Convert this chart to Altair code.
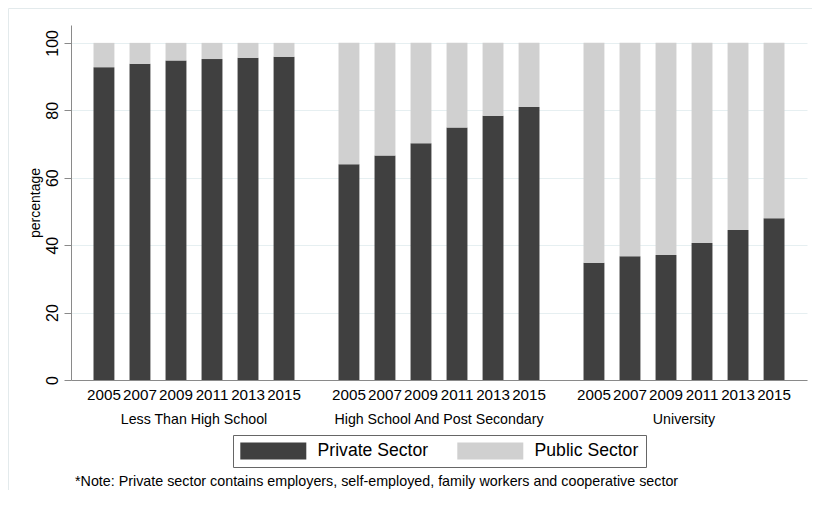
import altair as alt
import pandas as pd

groups = ["Less Than High School", "High School And Post Secondary", "University"]
years = ["2005", "2007", "2009", "2011", "2013", "2015"]
sectors = ["Private Sector", "Public Sector"]

private_less = [92.8, 93.8, 94.8, 95.2, 95.6, 95.9]
private_hs = [64.0, 66.6, 70.2, 74.9, 78.4, 81.0]
private_uni = [34.8, 36.7, 37.1, 40.6, 44.5, 48.0]
public_less = [7.2, 6.2, 5.2, 4.8, 4.4, 4.1]
public_hs = [36.0, 33.4, 29.8, 25.1, 21.6, 19.0]
public_uni = [65.2, 63.3, 62.9, 59.4, 55.5, 52.0]

y_ticks = [0, 20, 40, 60, 80, 100]
note = "*Note: Private sector contains employers, self-employed, family workers and cooperative sector"

private = {groups[0]: private_less, groups[1]: private_hs, groups[2]: private_uni}
public = {groups[0]: public_less, groups[1]: public_hs, groups[2]: public_uni}

rows = []
for g in groups:
    for i, yr in enumerate(years):
        rows.append({"group": g, "year": yr, "sector": sectors[0], "value": private[g][i], "ord": 0})
        rows.append({"group": g, "year": yr, "sector": sectors[1], "value": public[g][i], "ord": 1})
df = pd.DataFrame(rows)
labels_df = df[df["ord"] == 0]

W, H = 736, 355
FONT = "Liberation Sans"

x_enc = alt.X("group:N", sort=groups,
              scale=alt.Scale(paddingInner=0.118, paddingOuter=0.061),
              axis=alt.Axis(title=None, ticks=False, tickSize=0, labelPadding=32,
                            labelFontSize=14.2, labelFont=FONT, labelColor="black",
                            labelLimit=1000,
                            domainColor="#8a8a8a", grid=False, labelAngle=0))
xo_enc = alt.XOffset("year:N", sort=years,
                     scale=alt.Scale(paddingInner=0.42, paddingOuter=0.21))

# legend swatch: 17px tall, 66px wide, laid out as a 17px symbol
swatch = "M-1,-1H6.765V1H-1Z"

bars = alt.Chart(df).mark_bar(stroke=None).encode(
    x=x_enc,
    xOffset=xo_enc,
    y=alt.Y("value:Q", stack="zero",
            scale=alt.Scale(domain=[0, 105.3], nice=False, zero=True),
            axis=alt.Axis(title="percentage", values=y_ticks, labelAngle=270,
                          labelAlign="center", labelBaseline="bottom",
                          labelFontSize=16, labelFont=FONT, labelColor="black",
                          labelPadding=4, tickSize=7, tickColor="#8a8a8a",
                          domainColor="#8a8a8a", gridColor="#e6eff1",
                          titleFont=FONT, titleFontSize=14, titleFontWeight="normal",
                          titleColor="black", titlePadding=2)),
    color=alt.Color("sector:N", scale=alt.Scale(domain=sectors, range=["#404040", "#d0d0d0"]),
                    legend=alt.Legend(title=None, orient="none", legendX=162, legendY=410,
                                      direction="horizontal",
                                      symbolType=swatch, symbolSize=289,
                                      symbolStrokeWidth=0, symbolOpacity=1,
                                      labelFontSize=17.6, labelFont=FONT, labelColor="black",
                                      labelOffset=60, columnPadding=28,
                                      strokeColor="#666666", padding=7, fillColor="white")),
    order=alt.Order("ord:Q"),
)

year_text = alt.Chart(labels_df).mark_text(baseline="middle", align="center",
                                           fontSize=15.2, font=FONT, color="black").encode(
    x=alt.X("group:N", sort=groups),
    xOffset=alt.XOffset("year:N", sort=years),
    y=alt.value(H + 15),
    text="year:N",
)

note_text = alt.Chart(pd.DataFrame({"note": [note]})).mark_text(
    align="left", baseline="middle", fontSize=14.3, font=FONT, color="black").encode(
    x=alt.value(4), y=alt.value(457), text="note:N")

frame = alt.Chart(pd.DataFrame({"f": [1]})).mark_rect(
    fill="transparent", stroke="#e3eaec", strokeWidth=1).encode(
    x=alt.value(-62.5), x2=alt.value(900), y=alt.value(-16.5), y2=alt.value(700))

chart = alt.layer(frame, bars, year_text, note_text).properties(
    width=W, height=H,
    autosize=alt.AutoSizeParams(type="none"),
    padding={"left": 63, "top": 17, "right": 5, "bottom": 110},
    background="white",
).configure_view(strokeWidth=0)

chart.save("out.html", embed_options={"renderer": "svg", "actions": False})
